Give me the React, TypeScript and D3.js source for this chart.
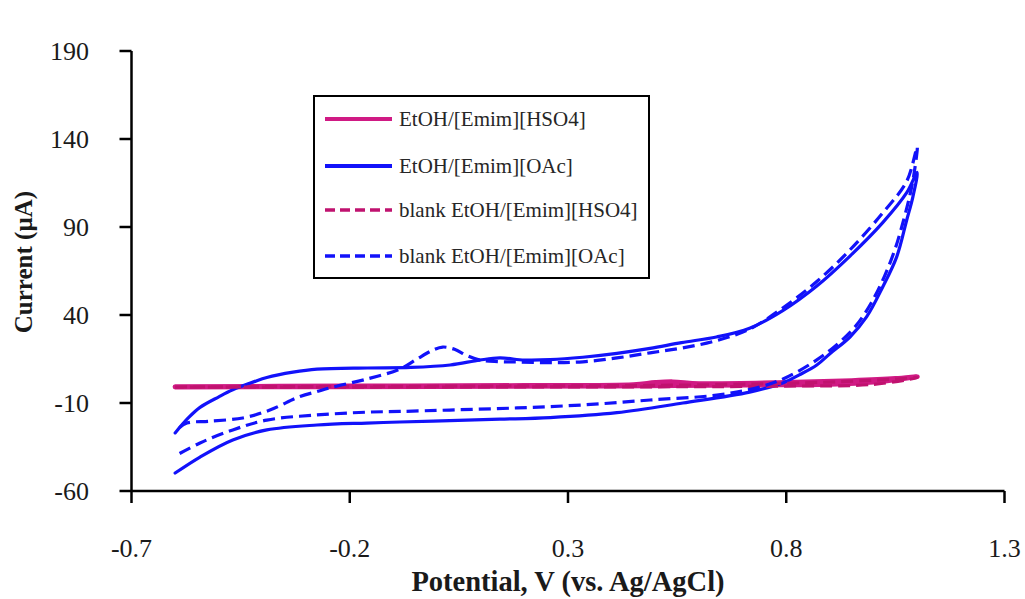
import React from "react";
import * as d3 from "d3";

// Cyclic voltammograms: potential (V vs. Ag/AgCl) against current (µA)
type Pt = [number, number];

const xTicks = [-0.7, -0.2, 0.3, 0.8, 1.3];
const yTicks = [-60, -10, 40, 90, 140, 190];

// EtOH/[Emim][HSO4]: forward sweep then reverse sweep
const hso4: Pt[] = [
  [-0.6, -0.7], [-0.2, -0.4], [0.2, -0.1], [0.45, 0.4], [0.5, 1.6], [0.54, 2.0],
  [0.6, 1.0], [0.8, 1.6], [0.95, 2.7], [1.05, 3.9], [1.1, 5.0],
  [1.0, 1.9], [0.9, 0.7], [0.7, 0.2], [0.4, -0.3], [0.0, -0.6], [-0.6, -0.9],
];

// EtOH/[Emim][OAc]
const oac: Pt[] = [
  [-0.6, -27.0], [-0.57, -18.5], [-0.543, -12.5], [-0.5, -6.5], [-0.468, -2.5],
  [-0.42, 2.0], [-0.39, 4.5], [-0.33, 7.5], [-0.275, 9.2], [-0.16, 9.9],
  [-0.06, 10.2], [0.03, 11.6], [0.098, 14.4], [0.144, 15.6], [0.2, 14.4],
  [0.259, 14.6], [0.334, 16.0], [0.412, 18.2], [0.488, 21.0], [0.56, 24.3],
  [0.64, 27.5], [0.716, 32.5], [0.792, 42.5], [0.87, 56.5], [0.946, 73.5],
  [1.021, 92.5], [1.076, 109.5], [1.1, 121.0],
  [1.09, 107.0], [1.076, 94.0], [1.053, 73.0], [1.021, 55.9], [0.984, 38.9],
  [0.946, 27.5], [0.9, 18.0], [0.87, 11.6], [0.83, 6.0], [0.792, 1.4],
  [0.716, -3.8], [0.563, -10.0], [0.412, -15.5], [0.259, -18.3], [0.144, -19.2],
  [0.029, -20.0], [-0.085, -20.8], [-0.161, -21.4], [-0.275, -22.5],
  [-0.39, -25.3], [-0.468, -31.0], [-0.543, -40.7], [-0.6, -49.8],
];

// blank EtOH/[Emim][HSO4]
const blankHso4: Pt[] = [
  [-0.6, -0.9], [-0.2, -0.6], [0.2, -0.3], [0.5, 0.0], [0.8, 1.2], [0.95, 2.4],
  [1.05, 3.6], [1.1, 4.4],
  [1.0, 0.6], [0.8, -0.4], [0.5, -0.8], [0.0, -0.9], [-0.6, -1.0],
];

// blank EtOH/[Emim][OAc]
const blankOac: Pt[] = [
  [-0.59, -24.0], [-0.573, -21.4], [-0.52, -20.3], [-0.445, -18.5], [-0.383, -14.0],
  [-0.314, -6.3], [-0.275, -3.5], [-0.238, -0.9], [-0.161, 3.6], [-0.085, 9.3],
  [-0.046, 15.0], [-0.01, 20.0], [0.013, 21.8], [0.04, 20.5], [0.068, 17.0],
  [0.1, 14.3], [0.14, 13.5], [0.183, 13.3], [0.259, 12.9], [0.334, 13.4],
  [0.412, 15.6], [0.488, 18.5], [0.563, 21.3], [0.641, 25.5], [0.716, 32.0],
  [0.792, 44.0], [0.87, 59.0], [0.946, 77.0], [1.021, 98.0], [1.076, 116.0],
  [1.1, 135.5],
  [1.095, 124.0], [1.085, 110.0], [1.07, 95.0], [1.05, 78.0], [1.025, 62.0],
  [0.995, 47.0], [0.96, 34.0], [0.92, 24.0], [0.87, 14.5], [0.8, 4.5],
  [0.74, -0.9], [0.641, -5.5], [0.488, -8.3], [0.334, -11.1], [0.183, -12.8],
  [0.029, -14.0], [-0.085, -14.8], [-0.161, -15.2], [-0.275, -16.8],
  [-0.39, -19.7], [-0.468, -25.3], [-0.543, -32.7], [-0.6, -40.1],
];

const MAGENTA = "#D01A84";
const MAGENTA_DASH = "#C0126F";
const BLUE = "#1212FA";

const series = [
  { name: "EtOH/[Emim][HSO4]", data: hso4, color: MAGENTA, width: 5, dash: null as string | null, legendWidth: 4 },
  { name: "EtOH/[Emim][OAc]", data: oac, color: BLUE, width: 3.2, dash: null as string | null, legendWidth: 4 },
  { name: "blank EtOH/[Emim][HSO4]", data: blankHso4, color: MAGENTA_DASH, width: 3.2, dash: "12,6", legendWidth: 3.5 },
  { name: "blank EtOH/[Emim][OAc]", data: blankOac, color: BLUE, width: 3.2, dash: "12,6", legendWidth: 3.5 },
];

const W = 1025;
const H = 599;
const FONT = "'Liberation Serif', 'Times New Roman', serif";

export default function App() {
  const x = d3.scaleLinear().domain([-0.7, 1.3]).range([131.5, 1004.5]);
  const y = d3.scaleLinear().domain([-60, 190]).range([491, 51]);
  const line = d3
    .line<Pt>()
    .x((d) => x(d[0]))
    .y((d) => y(d[1]))
    .curve(d3.curveCatmullRom.alpha(0.5));

  const legendRows = [119, 166, 210, 256];

  return (
    <svg
      width={W}
      height={H}
      viewBox={`0 0 ${W} ${H}`}
      style={{ position: "absolute", left: 0, top: 0, background: "#fff" }}
    >
      <rect x={0} y={0} width={W} height={H} fill="#fff" />

      {/* data curves */}
      <g fill="none" strokeLinecap="round" strokeLinejoin="round">
        {series.map((s) => (
          <path
            key={s.name}
            d={line(s.data) || ""}
            stroke={s.color}
            strokeWidth={s.width}
            strokeDasharray={s.dash || undefined}
            strokeLinecap={s.dash ? "butt" : "round"}
          />
        ))}
      </g>

      {/* axes */}
      <g stroke="#000" strokeWidth={2.5}>
        <line x1={x(-0.7)} x2={x(-0.7)} y1={y(190)} y2={y(-60)} />
        <line x1={x(-0.7)} x2={x(1.3)} y1={y(-60)} y2={y(-60)} />
        {yTicks.map((t) => (
          <line key={"yt" + t} x1={x(-0.7) - 12} x2={x(-0.7)} y1={y(t)} y2={y(t)} />
        ))}
        {xTicks.map((t) => (
          <line key={"xt" + t} x1={x(t)} x2={x(t)} y1={y(-60)} y2={y(-60) + 12} />
        ))}
      </g>

      <g fontFamily={FONT} fontSize={26} fill="#1a1a1a">
        {yTicks.map((t) => (
          <text key={"yl" + t} x={89} y={y(t) + 9} textAnchor="end">
            {String(t)}
          </text>
        ))}
        {xTicks.map((t) => (
          <text key={"xl" + t} x={x(t)} y={557} textAnchor="middle">
            {t.toFixed(1)}
          </text>
        ))}
      </g>

      {/* axis titles */}
      <text
        x={(x(-0.7) + x(1.3)) / 2}
        y={591}
        textAnchor="middle"
        fontFamily={FONT}
        fontWeight="bold"
        fontSize={28.5}
        fill="#1a1a1a"
      >
        Potential, V (vs. Ag/AgCl)
      </text>
      <text
        transform="translate(32,262) rotate(-90)"
        textAnchor="middle"
        fontFamily={FONT}
        fontWeight="bold"
        fontSize={25}
        fill="#1a1a1a"
      >
        Current (µA)
      </text>

      {/* legend */}
      <rect x={314} y={96} width={335} height={182} fill="#fff" stroke="#000" strokeWidth={2} />
      {series.map((s, i) => (
        <g key={"lg" + s.name}>
          <line
            x1={325}
            x2={392}
            y1={legendRows[i]}
            y2={legendRows[i]}
            stroke={s.color}
            strokeWidth={s.legendWidth}
            strokeDasharray={s.dash ? "10,5" : undefined}
          />
          <text
            x={399}
            y={legendRows[i] + 7}
            fontFamily={FONT}
            fontSize={21}
            fill="#262626"
          >
            {s.name}
          </text>
        </g>
      ))}
    </svg>
  );
}
